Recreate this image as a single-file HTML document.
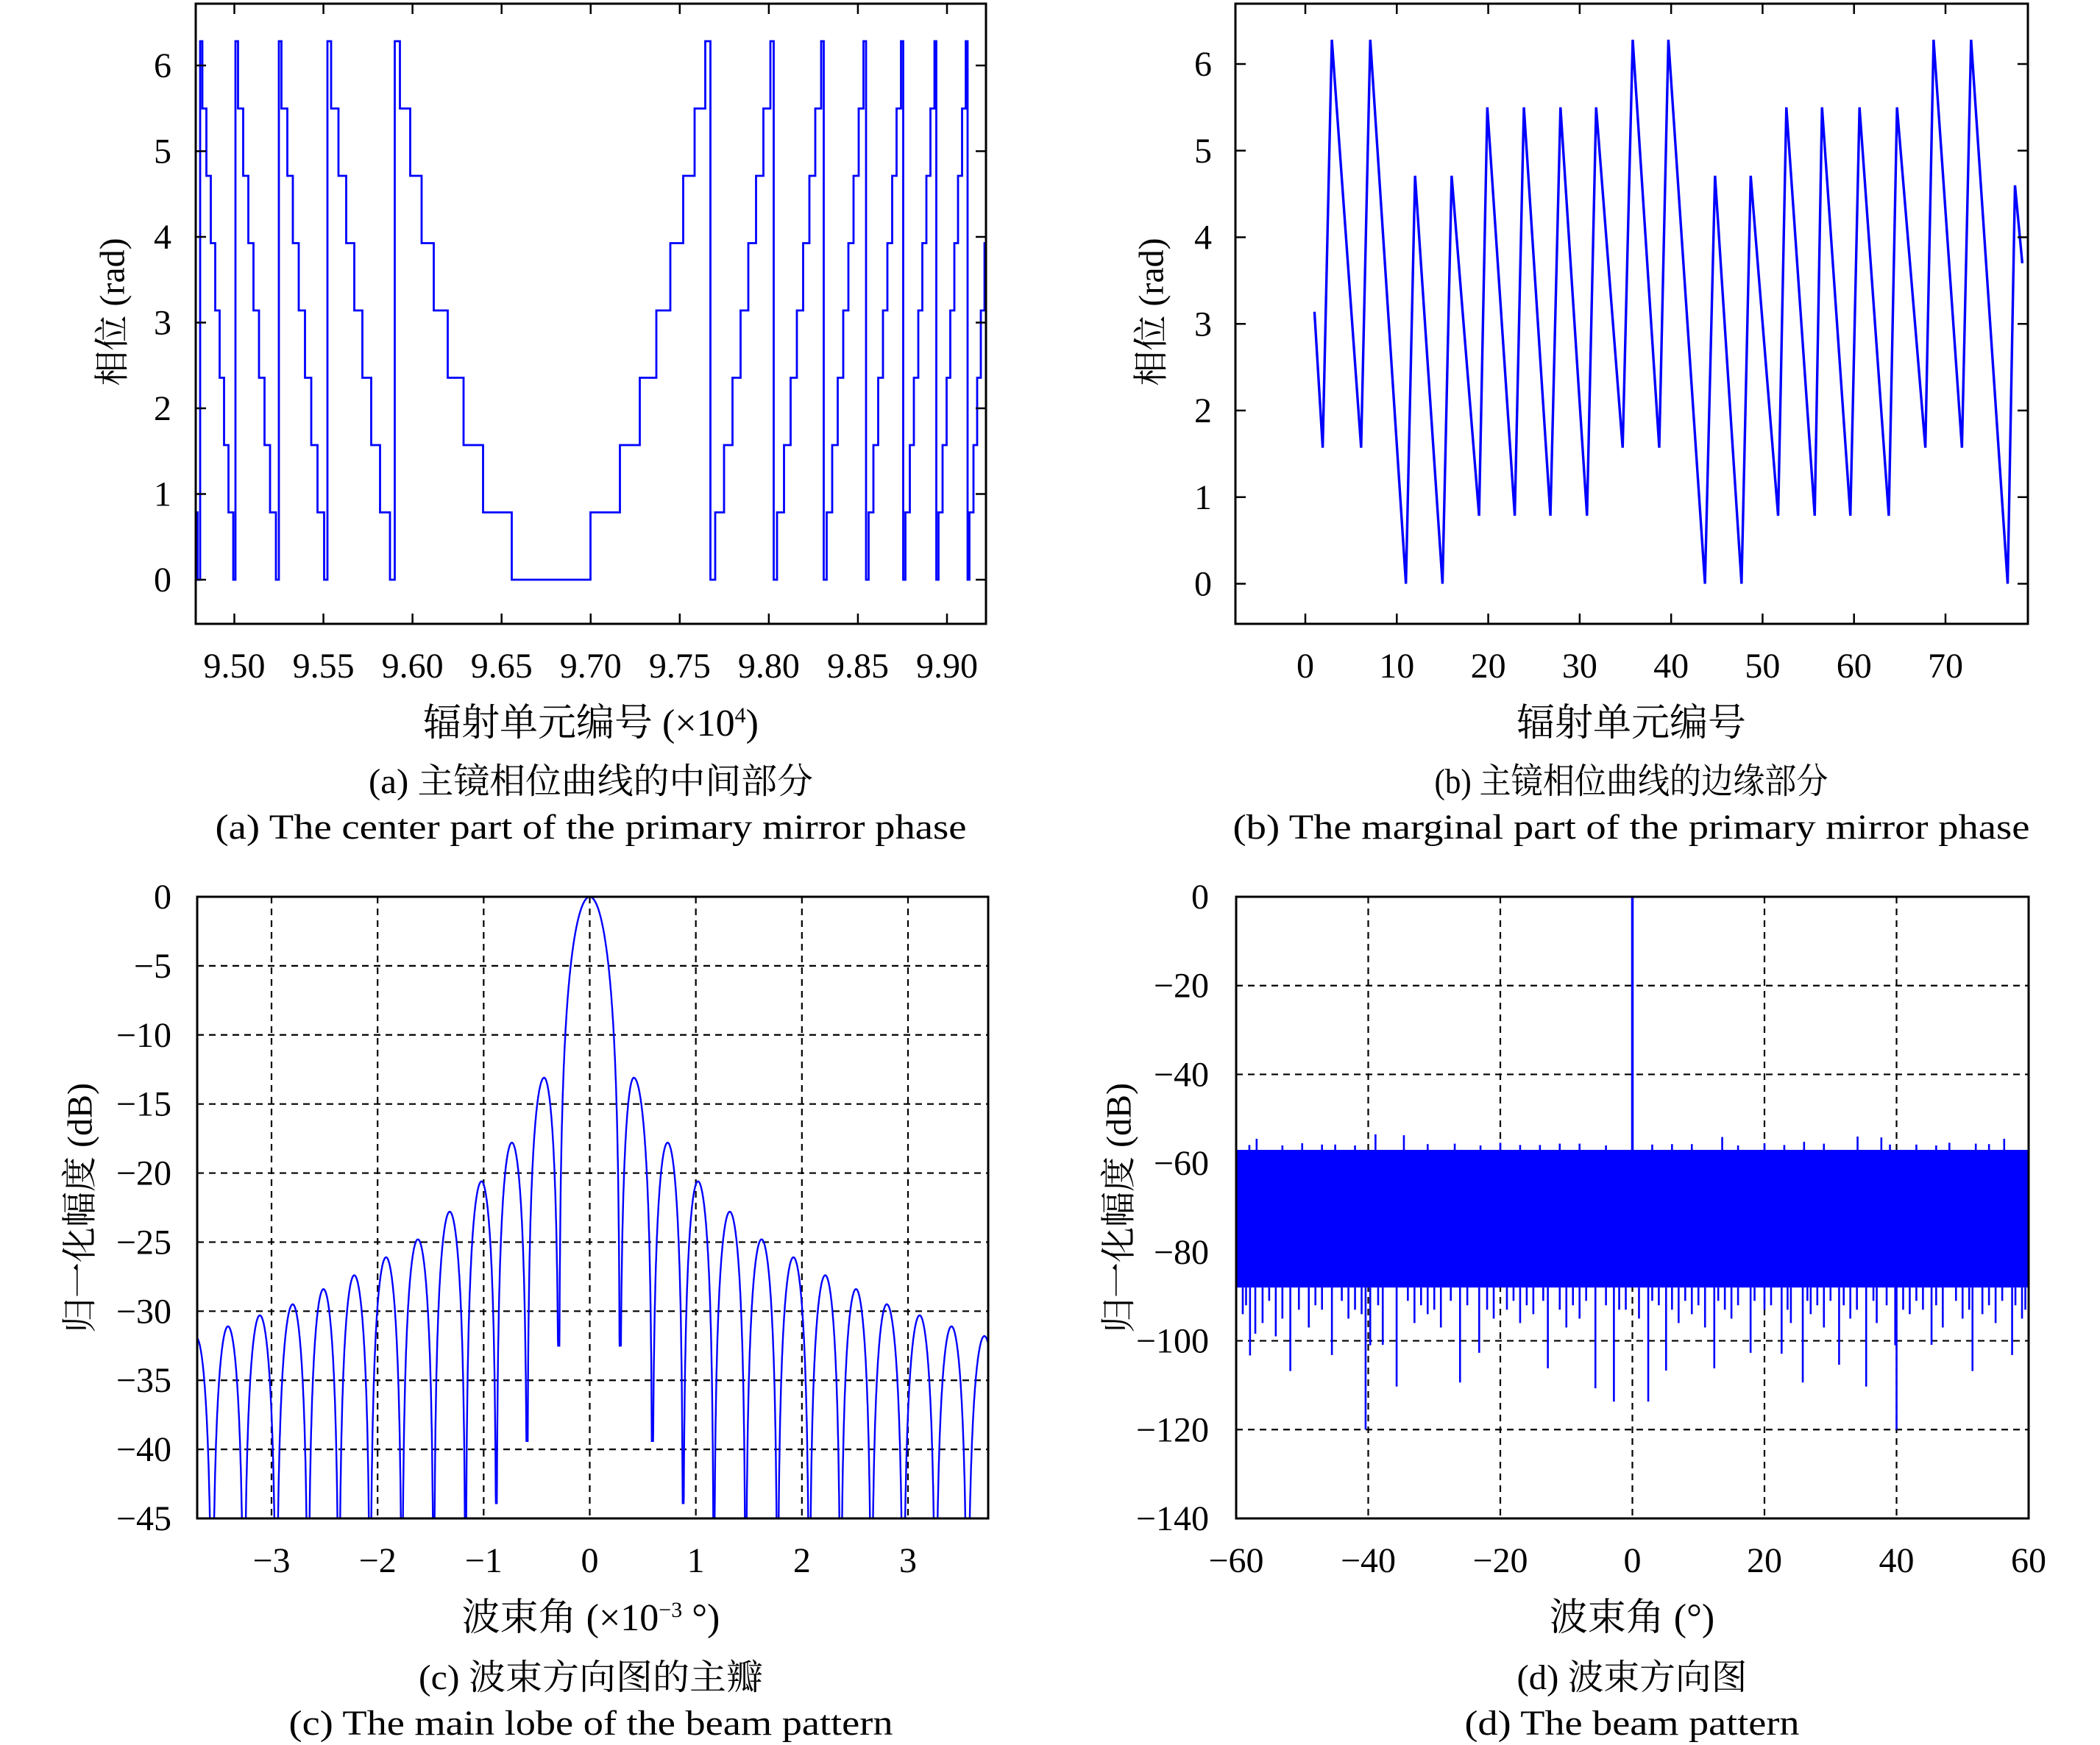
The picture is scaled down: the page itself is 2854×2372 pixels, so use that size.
<!DOCTYPE html>
<html><head><meta charset="utf-8">
<style>
html,body{margin:0;padding:0;background:#fff;}
svg{display:block;}
text{font-family:"Liberation Serif","Noto Serif CJK SC","Noto Sans CJK SC",serif;fill:#000;}
</style></head>
<body>
<svg id="fig" width="2854" height="2372" viewBox="0 0 2854 2372" xmlns="http://www.w3.org/2000/svg">
<rect x="0" y="0" width="2854" height="2372" fill="#fff"/>
<defs>
<clipPath id="clipA"><rect x="266" y="5" width="1074" height="843"/></clipPath>
<clipPath id="clipB"><rect x="1679" y="5" width="1077" height="843"/></clipPath>
<clipPath id="clipC"><rect x="268" y="1219" width="1075" height="845"/></clipPath>
<clipPath id="clipD"><rect x="1680" y="1219" width="1077" height="845"/></clipPath>
</defs>
<g id="panelA"></g>
<g id="panelB"></g>
<g id="panelC"></g>
<g id="panelD"></g>
</svg>
<script>
// ---------- Panel (a) data ----------
const aWrapX = [9.4807, 9.5005, 9.5248, 9.5522, 9.5900, 9.7671, 9.8026, 9.8308, 9.8545, 9.8753, 9.8940, 9.9115];
const aCenterX = [9.6774];
const aXTicks = [9.50, 9.55, 9.60, 9.65, 9.70, 9.75, 9.80, 9.85, 9.90];
const aXTickLabels = ["9.50","9.55","9.60","9.65","9.70","9.75","9.80","9.85","9.90"];
const aYTicks = [0,1,2,3,4,5,6];
// ---------- Panel (b) data ----------
const bVertX = [1.0, 1.9, 2.9, 6.1, 7.1, 11.0, 12.0, 15.0, 16.0, 19.0, 19.9, 22.9, 23.9, 26.8, 27.9, 30.8, 31.8, 34.7, 35.8, 38.7, 39.7, 43.7, 44.8, 47.7, 48.7, 51.7, 52.6, 55.7, 56.5, 59.6, 60.6, 63.8, 64.7, 67.8, 68.7, 71.8, 72.8, 76.8, 77.6, 78.4];
const bVertY = [3.14, 1.57, 6.28, 1.57, 6.28, 0, 4.71, 0, 4.71, 0.785, 5.50, 0.785, 5.50, 0.785, 5.50, 0.785, 5.50, 1.57, 6.28, 1.57, 6.28, 0, 4.71, 0, 4.71, 0.785, 5.50, 0.785, 5.50, 0.785, 5.50, 0.785, 5.50, 1.57, 6.28, 1.57, 6.28, 0, 4.6, 3.7];
const bXTicks = [0,10,20,30,40,50,60,70];
const bYTicks = [0,1,2,3,4,5,6];
// ---------- Panel (c) data ----------
const cPeakX = [-3.71,-3.41,-3.11,-2.80,-2.51,-2.22,-1.92,-1.62,-1.32,-1.02,-0.734,-0.43,0,0.415,0.734,1.02,1.32,1.62,1.92,2.22,2.51,2.80,3.11,3.41,3.72];
const cPeakDb = [-31.9,-31.1,-30.3,-29.5,-28.4,-27.4,-26.1,-24.8,-22.8,-20.6,-17.8,-13.1,0,-13.1,-17.8,-20.6,-22.8,-24.8,-26.1,-27.4,-28.4,-29.5,-30.3,-31.1,-31.8];
const cNullX = [-3.56,-3.26,-2.955,-2.655,-2.365,-2.07,-1.77,-1.47,-1.17,-0.88,-0.59,-0.29,0.285,0.59,0.88,1.17,1.47,1.77,2.07,2.365,2.655,2.955,3.26,3.56];
const cNullDb = [-55,-55,-55,-55,-55,-55,-55,-55,-55,-43.9,-39.4,-32.5,-32.5,-39.4,-43.9,-55,-55,-55,-55,-55,-55,-55,-55,-55];
const cXTicks = [-3,-2,-1,0,1,2,3];
const cYTicks = [0,-5,-10,-15,-20,-25,-30,-35,-40,-45];
// ---------- Panel (d) data ----------
const dBandTop = [-57];
const dBandBottom = [-88];
const dMainBeamX = [0];
const dMainBeamDb = [0];
const dLowX = [-40.4,40.0,-51.8,-35.7,-26.1,-12.8,-5.6,-2.8,2.4,5.1,12.4,25.8,31.3,35.4,51.5,57.5,-57.9,-45.5,-23.2,17.9,22.6,45.3,-37.8,-57.1,-54,-39.7,39.8,-59,-56,-53,-49,-47,-43,-41,-33,-31,-29,-21,-19,-17,-15,-10,-8,-1,1,7,9,11,15,20,24,27,29,33,37,42,44,47,50,53,55,59,
  -58.5,-55,-50.5,-48,-44,-42,-38.5,-34,-32,-30,-27.5,-25,-22,-18,-16,-13.5,-11,-9,-7,-4,-2,3,4,6,8,10,13,14,16,18.5,21,23.5,26.5,28,30,32,34,36.5,38.5,41,43,46,49,51,54,56,58,59.5];
const dLowDb = [-120,-120,-106.8,-110.3,-109.4,-106.2,-110.7,-113.7,-113.7,-106.7,-106.2,-109.4,-105.4,-110.3,-106.8,-103.2,-103.3,-103.2,-102.7,-102.7,-102.9,-100.9,-100.9,-98.4,-99,-101,-101,-94,-96,-95,-97,-93,-95,-94,-96,-94,-97,-95,-93,-96,-94,-97,-95,-93,-95,-96,-94,-97,-95,-93,-96,-94,-97,-95,-96,-94,-93,-97,-95,-94,-96,-95,
  -92,-91,-93,-92,-91,-93,-92,-91,-92,-93,-91,-92,-93,-91,-92,-91,-93,-92,-91,-92,-93,-91,-92,-93,-91,-92,-91,-93,-92,-91,-92,-93,-91,-92,-91,-92,-93,-91,-92,-93,-91,-92,-91,-93,-92,-91,-92,-93];
const dHighX = [-56.9,-38.9,-34.6,13.6,34.1,37.7,56.3,-26.9,-50,-45,-20,-14,-8,6,20,26,43,48,52,-58,-53,-47,-42,-31,-23,-17,-11,-4,3,9,16,23,29,39,46,54];
const dHighDb = [-54.5,-53.5,-53.7,-54.1,-54.0,-54.2,-54.5,-55.6,-55.5,-55.8,-55.4,-55.9,-55.6,-55.7,-55.5,-55.2,-55.8,-55.4,-55.6,-55.9,-56,-55.8,-56,-55.7,-56,-55.9,-55.6,-56,-55.8,-55.7,-56,-55.9,-55.6,-55.8,-56,-55.7];
const dXTicks = [-60,-40,-20,0,20,40,60];
const dYTicks = [0,-20,-40,-60,-80,-100,-120,-140];

const NS = "http://www.w3.org/2000/svg";
function mk(parent, tag, attrs, txt){
  const e = document.createElementNS(NS, tag);
  for (const k in attrs) e.setAttribute(k, attrs[k]);
  if (txt !== undefined) e.textContent = txt;
  parent.appendChild(e);
  return e;
}
function lin(d0,d1,r0,r1){ return v => r0 + (v-d0)*(r1-r0)/(d1-d0); }
function fmtNeg(v){ return v < 0 ? "\u2212" + Math.abs(v) : String(v); }
const FS = 48;

function frame(g, x0,y0,x1,y1){
  const r = mk(g,"rect",{x:x0,y:y0,width:x1-x0,height:y1-y0,fill:"none",stroke:"#000","stroke-width":3});
  
  
}
function ytitle(g, cx, cy, parts, name){
  const t = mk(g,"text",{x:cx,y:cy,"font-size":FS,"text-anchor":"middle",transform:`rotate(-90 ${cx} ${cy})`,"dominant-baseline":"central"});
  
  
  t.textContent = parts;
}
function caption(g, cx, y1, l1, l2, name, len1, len2){
  const a = mk(g,"text",{x:cx,y:y1,"font-size":FS,"text-anchor":"middle",textLength:len1,lengthAdjust:"spacingAndGlyphs"},l1);
  
  
  const b = mk(g,"text",{x:cx,y:y1+62,"font-size":FS,"text-anchor":"middle",textLength:len2,lengthAdjust:"spacingAndGlyphs"},l2);
  
  
}

// ================= Panel A =================
(function(){
  const g = document.getElementById("panelA");
  const X0=266,X1=1340,Y0=5,Y1=848;
  const sx = lin(9.50,9.90,318.5,1287);
  const sy = lin(0,6,788,89);
  const ppu = (1287-318.5)/0.40;
  const xmin = 9.50 + (X0-318.5)/ppu, xmax = 9.50 + (X1-318.5)/ppu;
  const W = aWrapX.slice();
  const c = aCenterX[0];
  W.unshift(W[0] - (W[1]-W[0])*1.1);
  W.push(W[W.length-1] + (W[W.length-1]-W[W.length-2])*0.95);
  const q = Math.PI/4;
  function phase(x){
    const u = v => (v-c)*(v-c);
    for (let i=0;i<W.length-1;i++){
      const a=W[i], b=W[i+1];
      if (x>=a && x<b){
        if (a<=c && c<=b){
          const edge = x<c ? u(a) : u(b);
          return 2*Math.PI*u(x)/edge;
        } else if (b<=c){
          return 2*Math.PI*(u(x)-u(b))/(u(a)-u(b));
        } else {
          return 2*Math.PI*(u(x)-u(a))/(u(b)-u(a));
        }
      }
    }
    return 0;
  }
  let d = "", prev = null;
  for (let px=X0; px<=X1; px+=0.5){
    const x = xmin + (px-X0)*(xmax-xmin)/(X1-X0);
    let ph = Math.round(phase(x)/q)*q;
    if (ph>2*Math.PI) ph=2*Math.PI;
    const yy = sy(ph);
    if (prev===null){ d += `M${px},${yy}`; }
    else if (Math.abs(yy-prev)>0.01){ d += `L${px},${prev}L${px},${yy}`; }
    prev = yy;
  }
  d += `L${X1},${prev}`;
  const p = mk(g,"path",{d:d,fill:"none",stroke:"#0000ff","stroke-width":2.8,"clip-path":"url(#clipA)"});
  
  
  frame(g,X0,Y0,X1,Y1);
  aXTicks.forEach((v,i)=>{
    const x = sx(v);
    mk(g,"line",{x1:x,y1:Y1,x2:x,y2:Y1-14,stroke:"#000","stroke-width":2.5});
    mk(g,"line",{x1:x,y1:Y0,x2:x,y2:Y0+14,stroke:"#000","stroke-width":2.5});
    const t = mk(g,"text",{x:x,y:921,"font-size":FS,"text-anchor":"middle"},aXTickLabels[i]);
    
    
  });
  aYTicks.forEach(v=>{
    const y = sy(v);
    mk(g,"line",{x1:X0,y1:y,x2:X0+14,y2:y,stroke:"#000","stroke-width":2.5});
    mk(g,"line",{x1:X1,y1:y,x2:X1-14,y2:y,stroke:"#000","stroke-width":2.5});
    const t = mk(g,"text",{x:233,y:y+16,"font-size":FS,"text-anchor":"end"},String(v));
    
    
  });
  const xt = mk(g,"text",{x:803,y:1000,"font-size":FS+4,"text-anchor":"middle"});
  
  
  xt.innerHTML = '辐射单元编号 (×10<tspan font-size="30" dy="-18">4</tspan><tspan dy="18">)</tspan>';
  ytitle(g,153,424,"相位 (rad)","y-axis-title");
  caption(g,803,1078,"(a) 主镜相位曲线的中间部分","(a) The center part of the primary mirror phase","panel-a",604,1021);
})();

// ================= Panel B =================
(function(){
  const g = document.getElementById("panelB");
  const X0=1679,X1=2756,Y0=5,Y1=848;
  const sx = lin(0,70,1774,2644);
  const sy = lin(0,6,793.5,87);
  let d = "";
  bVertX.forEach((v,i)=>{ d += (i? "L":"M") + sx(v) + "," + sy(bVertY[i]); });
  const p = mk(g,"path",{d:d,fill:"none",stroke:"#0000ff","stroke-width":3.4,"clip-path":"url(#clipB)"});
  
  
  frame(g,X0,Y0,X1,Y1);
  bXTicks.forEach(v=>{
    const x = sx(v);
    mk(g,"line",{x1:x,y1:Y1,x2:x,y2:Y1-14,stroke:"#000","stroke-width":2.5});
    mk(g,"line",{x1:x,y1:Y0,x2:x,y2:Y0+14,stroke:"#000","stroke-width":2.5});
    const t = mk(g,"text",{x:x,y:921,"font-size":FS,"text-anchor":"middle"},String(v));
    
    
  });
  bYTicks.forEach(v=>{
    const y = sy(v);
    mk(g,"line",{x1:X0,y1:y,x2:X0+14,y2:y,stroke:"#000","stroke-width":2.5});
    mk(g,"line",{x1:X1,y1:y,x2:X1-14,y2:y,stroke:"#000","stroke-width":2.5});
    const t = mk(g,"text",{x:1647,y:y+16,"font-size":FS,"text-anchor":"end"},String(v));
    
    
  });
  const xt = mk(g,"text",{x:2217,y:1000,"font-size":FS+4,"text-anchor":"middle"},"辐射单元编号");
  
  
  ytitle(g,1565,424,"相位 (rad)","y-axis-title");
  caption(g,2217,1078,"(b) 主镜相位曲线的边缘部分","(b) The marginal part of the primary mirror phase","panel-b",535,1083);
})();

function grid(g, xs, ys, sx, sy, X0,Y0,X1,Y1){
  xs.forEach(v=>{ const x=sx(v); const l=mk(g,"line",{x1:x,y1:Y0,x2:x,y2:Y1,stroke:"#000","stroke-width":2.2,"stroke-dasharray":"9,7"});   });
  ys.forEach(v=>{ const y=sy(v); const l=mk(g,"line",{x1:X0,y1:y,x2:X1,y2:y,stroke:"#000","stroke-width":2.2,"stroke-dasharray":"9,7"});   });
}

// ================= Panel C =================
(function(){
  const g = document.getElementById("panelC");
  const X0=268,X1=1343,Y0=1219,Y1=2064;
  const sx = lin(-3,3,369,1234);
  const sy = lin(0,-45,Y0,Y1);
  grid(g,cXTicks,cYTicks,sx,sy,X0,Y0,X1,Y1);
  const ppu = (1234-369)/6;
  const x0v = -3 + (X0-369)/ppu, x1v = -3 + (X1-369)/ppu;
  let d="", first=true;
  for (let x=x0v; x<=x1v; x+=0.0015){
    let i=0; while(i<cNullX.length && x>cNullX[i]) i++;
    const p = cPeakX[i], pd = cPeakDb[i];
    const n0 = i>0 ? cNullX[i-1] : p-(cNullX[0]-p);
    const n1 = i<cNullX.length ? cNullX[i] : p+(p-cNullX[cNullX.length-1]);
    const d0 = i>0 ? cNullDb[i-1] : -55;
    const d1 = i<cNullX.length ? cNullDb[i] : -55;
    let r, floor;
    if (x<p){ r=Math.sin(Math.PI/2*(x-n0)/(p-n0)); floor=d0; }
    else { r=Math.sin(Math.PI/2*(n1-x)/(n1-p)); floor=d1; }
    let db = pd + 20*Math.log10(Math.max(r,1e-6));
    if (db<floor) db=floor;
    d += (first?"M":"L")+sx(x).toFixed(1)+","+sy(db).toFixed(1);
    first=false;
  }
  const p = mk(g,"path",{d:d,fill:"none",stroke:"#0000ff","stroke-width":2.4,"clip-path":"url(#clipC)"});
  
  
  frame(g,X0,Y0,X1,Y1);
  cXTicks.forEach(v=>{
    const t = mk(g,"text",{x:sx(v),y:2137,"font-size":FS,"text-anchor":"middle"},fmtNeg(v));
    
    
  });
  cYTicks.forEach(v=>{
    const t = mk(g,"text",{x:233,y:sy(v)+16,"font-size":FS,"text-anchor":"end"},fmtNeg(v));
    
    
  });
  const xt = mk(g,"text",{x:803,y:2216,"font-size":FS+4,"text-anchor":"middle"});
  
  
  xt.innerHTML = '波束角 (×10<tspan font-size="30" dy="-18">−3</tspan><tspan dy="18"> °)</tspan>';
  ytitle(g,109,1642,"归一化幅度 (dB)","y-axis-title");
  caption(g,803,2296,"(c) 波束方向图的主瓣","(c) The main lobe of the beam pattern","panel-c",468,821);
})();

// ================= Panel D =================
(function(){
  const g = document.getElementById("panelD");
  const X0=1680,X1=2757,Y0=1219,Y1=2064;
  const sx = lin(-60,60,X0,X1);
  const sy = lin(0,-140,Y0,Y1);
  grid(g,dXTicks.slice(1,-1),dYTicks.slice(1,-1),sx,sy,X0,Y0,X1,Y1);
  const band = mk(g,"rect",{x:X0,y:sy(dBandTop[0]),width:X1-X0,height:sy(dBandBottom[0])-sy(dBandTop[0]),fill:"#0000ff"});
  
  
  const nLow = Math.min(dLowX.length, dLowDb.length);
  for (let i=0;i<nLow;i++){
    const v = dLowX[i];
    const l = mk(g,"line",{x1:sx(v),y1:sy(dBandBottom[0]),x2:sx(v),y2:sy(dLowDb[i]),stroke:"#0000ff","stroke-width":2.6,"clip-path":"url(#clipD)"});
    
    
  }
  const nHigh = Math.min(dHighX.length, dHighDb.length);
  for (let i=0;i<nHigh;i++){
    const v = dHighX[i];
    const l = mk(g,"line",{x1:sx(v),y1:sy(dBandTop[0]),x2:sx(v),y2:sy(dHighDb[i]),stroke:"#0000ff","stroke-width":2.6});
    
    
  }
  const mb = mk(g,"line",{x1:sx(dMainBeamX[0]),y1:sy(dBandTop[0]),x2:sx(dMainBeamX[0]),y2:sy(dMainBeamDb[0]),stroke:"#0000ff","stroke-width":3.5});
  
  
  frame(g,X0,Y0,X1,Y1);
  dXTicks.forEach(v=>{
    const t = mk(g,"text",{x:sx(v),y:2137,"font-size":FS,"text-anchor":"middle"},fmtNeg(v));
    
    
  });
  dYTicks.forEach(v=>{
    const t = mk(g,"text",{x:1643,y:sy(v)+16,"font-size":FS,"text-anchor":"end"},fmtNeg(v));
    
    
  });
  const xt = mk(g,"text",{x:2218,y:2216,"font-size":FS+4,"text-anchor":"middle"},"波束角 (°)");
  
  
  ytitle(g,1521,1642,"归一化幅度 (dB)","y-axis-title");
  caption(g,2218,2296,"(d) 波束方向图","(d) The beam pattern","panel-d",313,455);
})();
</script>
</body></html>
